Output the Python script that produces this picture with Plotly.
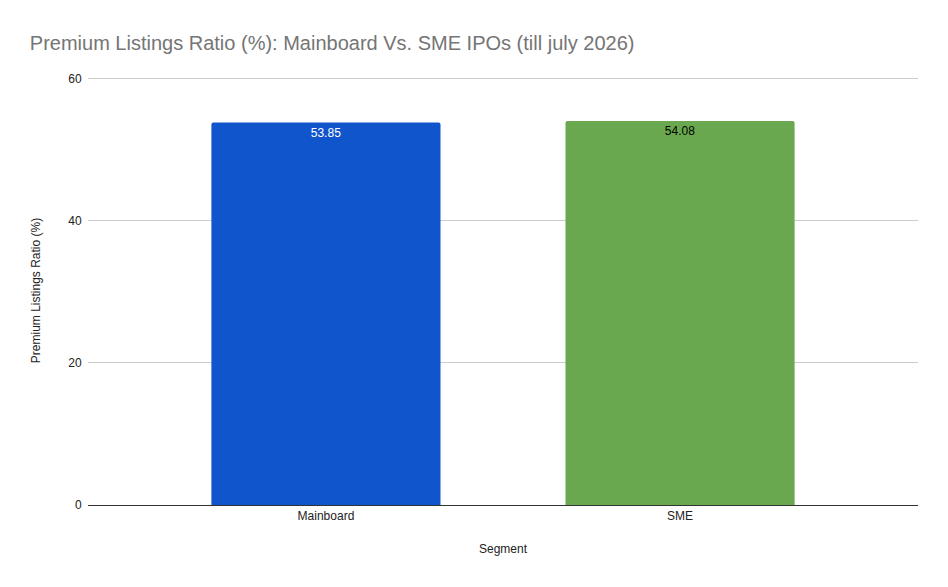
import plotly.graph_objects as go

segments = ["Mainboard", "SME"]
ratios = [53.85, 54.08]
bar_colors = ["#1155cc", "#6aa84f"]
label_colors = ["#ffffff", "#000000"]

fig = go.Figure(go.Bar(
    x=segments,
    y=ratios,
    marker=dict(color=bar_colors, cornerradius=2, line=dict(width=0)),
    text=[f"{v:.2f}" for v in ratios],
    textposition="inside",
    insidetextanchor="end",
    textfont=dict(color=label_colors, size=12, family="Liberation Sans, Arial"),
    width=0.647,
))

fig.update_layout(
    width=948, height=587,
    font=dict(family="Liberation Sans, Arial", size=12, color="#222222"),
    title=dict(text="Premium Listings Ratio (%): Mainboard Vs. SME IPOs (till july 2026)",
               x=0.023, xanchor="left", y=0.94, yanchor="middle",
               font=dict(size=20, color="#757575")),
    plot_bgcolor="white", paper_bgcolor="white",
    margin=dict(l=80, r=38, t=68, b=90),
    showlegend=False,
)
fig.update_xaxes(title=dict(text="Segment", font=dict(size=12), standoff=22),
                 range=[-0.672, 1.672],
                 showline=True, linecolor="#333333", linewidth=1,
                 tickfont=dict(size=12), ticks="", showgrid=False)
fig.update_yaxes(title=dict(text="Premium Listings Ratio (%)", font=dict(size=12), standoff=25),
                 range=[0, 60.4], tickvals=[0, 20, 40, 60], gridcolor="#cccccc",
                 zeroline=False, ticks="outside", ticklen=3, tickcolor="white",
                 tickfont=dict(size=12))

fig.write_html("out.html")
